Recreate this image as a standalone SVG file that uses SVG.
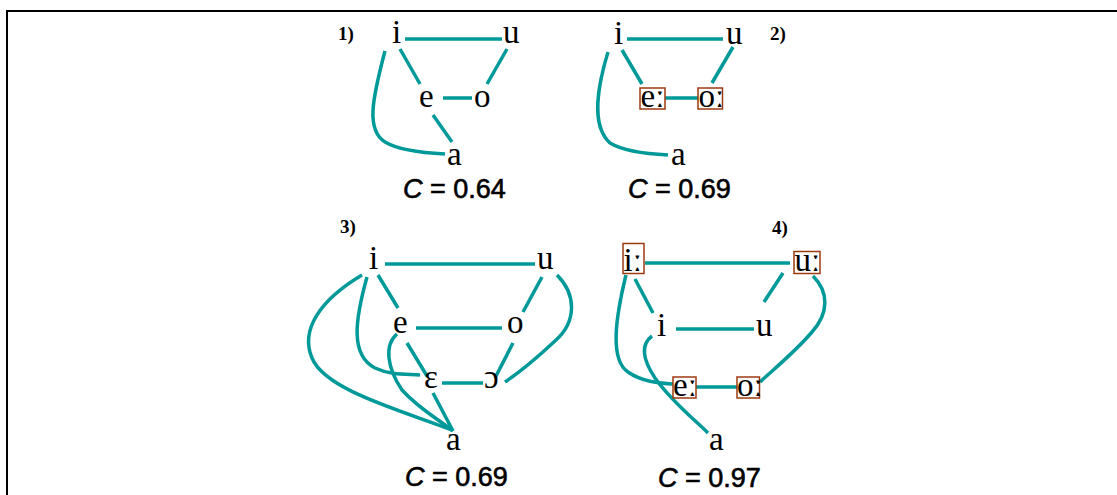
<svg xmlns="http://www.w3.org/2000/svg" width="1117" height="495" viewBox="0 0 1117 495">
<style>
.frame{fill:none;stroke:#000;stroke-width:2}
.e{fill:none;stroke:#009999;stroke-width:3.5;stroke-linecap:butt}
.v{font-family:"Liberation Serif","DejaVu Serif",serif;font-size:33px;fill:#000}
.n{font-family:"Liberation Serif",serif;font-size:19px;font-weight:bold;fill:#000}
.c{font-family:"Liberation Sans",Arial,sans-serif;font-size:27px;fill:#000;stroke:#000;stroke-width:0.6}
.b{fill:#fff;stroke:#9c3a10;stroke-width:1.5}
</style>
<rect x="0" y="0" width="1117" height="495" fill="#fff"/>
<path class="frame" d="M7,495 V11 H1117"/>
<g id="connectors">
<!-- panel 1 -->
<line class="e" x1="405" y1="39" x2="502" y2="39"/>
<line class="e" x1="400" y1="49" x2="420" y2="84"/>
<line class="e" x1="443" y1="98" x2="472" y2="98"/>
<line class="e" x1="507" y1="49" x2="487" y2="84"/>
<line class="e" x1="433" y1="115" x2="452" y2="142"/>
<path class="e" d="M385,51 C372,100 366,130 385,142 C400,151 425,153 445,154"/>
<!-- panel 2 -->
<line class="e" x1="627" y1="39" x2="723" y2="39"/>
<line class="e" x1="622" y1="50" x2="642" y2="84"/>
<line class="e" x1="665" y1="98" x2="698" y2="98"/>
<line class="e" x1="733" y1="47" x2="712" y2="83"/>
<path class="e" d="M608,52 C598,85 590,125 610,143 C625,152 648,154 668,155"/>
<!-- panel 3 -->
<line class="e" x1="385" y1="264" x2="535" y2="264"/>
<line class="e" x1="378" y1="275" x2="398" y2="308"/>
<line class="e" x1="416" y1="328" x2="502" y2="328"/>
<line class="e" x1="542" y1="277" x2="523" y2="312"/>
<line class="e" x1="513" y1="343" x2="495" y2="378"/>
<line class="e" x1="407" y1="343" x2="427" y2="376"/>
<line class="e" x1="442" y1="383" x2="483" y2="383"/>
<line class="e" x1="433" y1="393" x2="453" y2="431"/>
<path class="e" d="M557,275 C577,295 576,322 556,340 C540,355 520,372 505,382"/>
<path class="e" d="M397,334 C384,345 387,368 402,390 C420,410 440,420 453,431"/>
<path class="e" d="M367,277 C355,320 350,355 375,368 C390,375 405,374 420,375"/>
<path class="e" d="M362,275 C320,300 300,330 312,358 C325,390 400,410 452,430"/>
<!-- panel 4 -->
<line class="e" x1="645" y1="263" x2="790" y2="263"/>
<line class="e" x1="635" y1="279" x2="653" y2="313"/>
<line class="e" x1="676" y1="329" x2="754" y2="329"/>
<line class="e" x1="783" y1="273" x2="764" y2="302"/>
<line class="e" x1="696" y1="387" x2="737" y2="387"/>
<path class="e" d="M813,276 C829,292 829,313 812,332 C795,352 775,368 760,382"/>
<path class="e" d="M626,275 C615,320 610,360 628,372 C642,382 660,383 673,384"/>
<path class="e" d="M652,336 C640,345 643,360 655,378 C672,402 695,420 708,433"/>
</g>
<g id="panel1">
<text class="n" x="338" y="40">1)</text>
<g id="p1-i"><text class="v" x="392" y="43">i</text></g>
<g id="p1-u"><text class="v" x="503" y="43">u</text></g>
<g id="p1-e"><text class="v" x="419" y="107">e</text></g>
<g id="p1-o"><text class="v" x="474" y="107">o</text></g>
<g id="p1-a"><text class="v" x="447" y="165">a</text></g>
<text class="c" x="403" y="198"><tspan font-style="italic">C</tspan> = 0.64</text>
</g>
<g id="panel2">
<text class="n" x="770" y="40">2)</text>
<g id="p2-i"><text class="v" x="614" y="44">i</text></g>
<g id="p2-u"><text class="v" x="726" y="44">u</text></g>
<g id="p2-ee"><rect class="b" x="640" y="88" width="25" height="21"/><text class="v" x="640.5" y="106.5">eː</text></g>
<g id="p2-oo"><rect class="b" x="698" y="88" width="24.5" height="21"/><text class="v" x="698.5" y="106.5">oː</text></g>
<g id="p2-a"><text class="v" x="671" y="165">a</text></g>
<text class="c" x="628" y="198"><tspan font-style="italic">C</tspan> = 0.69</text>
</g>
<g id="panel3">
<text class="n" x="340" y="233">3)</text>
<g id="p3-i"><text class="v" x="369" y="269">i</text></g>
<g id="p3-u"><text class="v" x="537" y="269">u</text></g>
<g id="p3-e"><text class="v" x="393" y="333">e</text></g>
<g id="p3-o"><text class="v" x="507" y="333">o</text></g>
<g id="p3-eps"><text class="v" x="424" y="388">ɛ</text></g>
<g id="p3-open-o"><text class="v" x="484" y="388">ɔ</text></g>
<g id="p3-a"><text class="v" x="446" y="450">a</text></g>
<text class="c" x="405" y="486"><tspan font-style="italic">C</tspan> = 0.69</text>
</g>
<g id="panel4">
<text class="n" x="772" y="234">4)</text>
<g id="p4-ii"><rect class="b" x="623" y="243.5" width="21" height="30"/><text class="v" x="623.5" y="270.5">iː</text></g>
<g id="p4-uu"><rect class="b" x="794" y="251.5" width="26" height="22"/><text class="v" x="794.5" y="270.5">uː</text></g>
<g id="p4-i"><text class="v" x="657" y="336">i</text></g>
<g id="p4-u"><text class="v" x="756" y="336">u</text></g>
<g id="p4-ee"><rect class="b" x="673" y="377" width="23" height="21"/><text class="v" x="673" y="395.5">eː</text></g>
<g id="p4-oo"><rect class="b" x="737" y="377" width="22.5" height="21"/><text class="v" x="737" y="395.5">oː</text></g>
<g id="p4-a"><text class="v" x="709" y="450">a</text></g>
<text class="c" x="658" y="487"><tspan font-style="italic">C</tspan> = 0.97</text>
</g>
</svg>
